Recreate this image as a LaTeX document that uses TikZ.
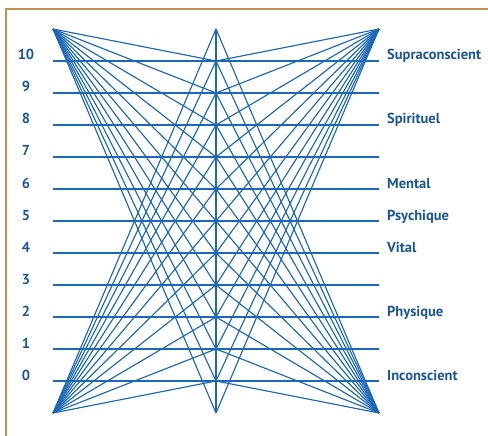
\documentclass[tikz,border=0pt]{standalone}
\usepackage{fontspec}
\setmainfont{PT Sans}
\definecolor{fanblue}{RGB}{28,104,180}
\definecolor{labelblue}{RGB}{26,86,150}
\definecolor{frametan}{RGB}{196,146,78}

\begin{document}
\begin{tikzpicture}[x=1pt,y=-1pt,
		fan/.style={fanblue,line width=1.15pt},
		level/.style={fanblue,line width=1.4pt},
		lbl/.style={labelblue,inner sep=0pt,font=\fontsize{14.5}{14.5}\selectfont\bfseries}]
		\useasboundingbox (0,0) rectangle (488,436);
		% frame
		\draw[frametan,line width=2pt] (492,9) -- (6,9) -- (6,436.5) -- (492,436.5);
		% apexes
		\coordinate (tl) at (53,29);
		\coordinate (tr) at (379,29);
		\coordinate (bl) at (53,413);
		\coordinate (br) at (379,413);
		% points on the middle axis (levels -1 to 11)
		\foreach \k in {-1,...,11}
			\coordinate (m\k) at (216,{381-32*\k});
		\draw[fan] (m-1) -- (m11);
		% fans from the four corners
		\foreach \k in {-1,...,10}{
			\draw[fan] (tl) -- (m\k);
			\draw[fan] (tr) -- (m\k);
		}
		\foreach \k in {0,...,11}{
			\draw[fan] (bl) -- (m\k);
			\draw[fan] (br) -- (m\k);
		}
		% levels and numbers
		\foreach \k in {0,...,10}{
			\coordinate (l\k) at (53,{381-32*\k});
			\coordinate (r\k) at (379,{381-32*\k});
			\draw[level] (l\k) -- (r\k);
			\node[lbl,anchor=base] (n\k) at (26,{380-32*\k}) {\k};
		}
		% names of the levels
		\foreach \k/\t in {10/Supraconscient,8/Spirituel,6/Mental,5/Psychique,4/Vital,2/Physique,0/Inconscient}
			\node[lbl,anchor=base west] (t\k) at (387,{380-32*\k}) {\t};
	\end{tikzpicture}
\end{document}
